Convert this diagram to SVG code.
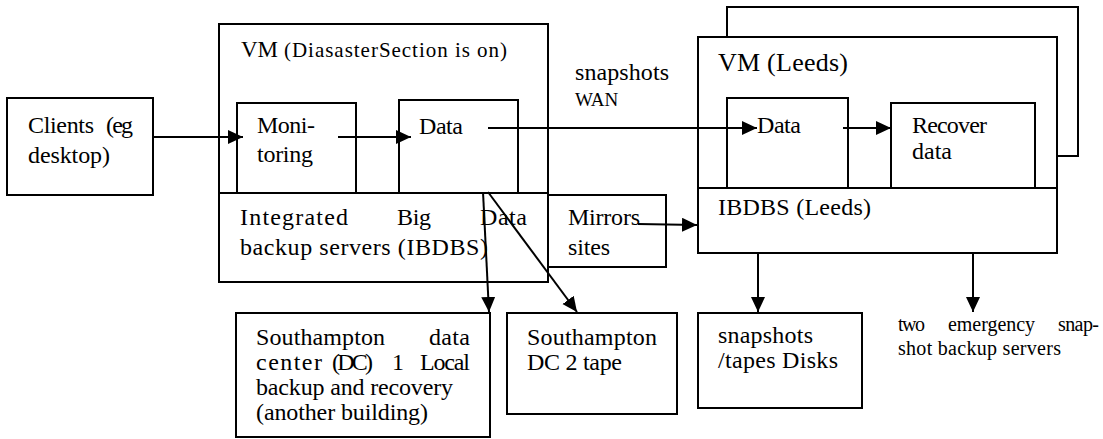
<svg xmlns="http://www.w3.org/2000/svg" width="1103" height="439" viewBox="0 0 1103 439">
<style>
.box{fill:#fff;stroke:#000;stroke-width:2}
.ln{fill:none;stroke:#000;stroke-width:2}
text{font-family:"Liberation Serif","Times New Roman",serif;font-size:24px;fill:#000}
.sm{font-size:20px}
</style>
<defs>
<marker id="ah" markerUnits="userSpaceOnUse" markerWidth="16" markerHeight="16" refX="15" refY="7" orient="auto">
<path d="M0,0 L15,7 L0,14 z" fill="#000"/>
</marker>
</defs>
<rect width="1103" height="439" fill="#fff"/>

<g id="clients">
<rect class="box" x="7" y="98" width="146" height="97"/>
<text x="28" y="133" textLength="66" lengthAdjust="spacing">Clients</text>
<text x="106" y="133" textLength="27" lengthAdjust="spacing">(eg</text>
<text x="28" y="163" textLength="82" lengthAdjust="spacing">desktop)</text>
</g>

<g id="vm-main">
<rect class="box" x="219" y="24" width="329" height="169"/>
<text x="241" y="57" style="font-size:23px" textLength="37" lengthAdjust="spacing">VM</text>
<text x="284" y="57" style="font-size:21px" textLength="223" lengthAdjust="spacing">(DiasasterSection is on)</text>
</g>

<g id="monitoring">
<rect class="box" x="237" y="103" width="119" height="90"/>
<text x="257" y="133" textLength="58" lengthAdjust="spacing">Moni-</text>
<text x="257" y="162" textLength="56" lengthAdjust="spacing">toring</text>
</g>

<g id="data-main">
<rect class="box" x="399" y="100" width="119" height="93"/>
<text x="419" y="134" textLength="44" lengthAdjust="spacing">Data</text>
</g>

<g id="ibdbs">
<rect class="box" x="219" y="193" width="329" height="89"/>
<text x="240" y="225" textLength="108" lengthAdjust="spacing">Integrated</text>
<text x="397" y="225" textLength="34" lengthAdjust="spacing">Big</text>
<text x="480" y="225" textLength="47" lengthAdjust="spacing">Data</text>
<text x="240" y="255" textLength="248" lengthAdjust="spacing">backup servers (IBDBS)</text>
</g>

<g id="mirrors">
<rect class="box" x="548" y="195" width="118" height="72"/>
<text x="568" y="225" textLength="72" lengthAdjust="spacing">Mirrors</text>
<text x="568" y="255" textLength="42" lengthAdjust="spacing">sites</text>
</g>

<g id="wan-label">
<text x="575" y="80" textLength="94" lengthAdjust="spacing">snapshots</text>
<text x="575" y="106" style="font-size:19px">WAN</text>
</g>

<g id="vm-leeds-back">
<rect class="box" x="727" y="7" width="351" height="149"/>
</g>

<g id="vm-leeds">
<rect class="box" x="698" y="37" width="359" height="151"/>
<text x="718" y="71" style="font-size:26px" textLength="130" lengthAdjust="spacing">VM (Leeds)</text>
</g>

<g id="data-leeds">
<rect class="box" x="727" y="98" width="121" height="90"/>
<text x="757" y="133" textLength="44" lengthAdjust="spacing">Data</text>
</g>

<g id="recover">
<rect class="box" x="891" y="103" width="144" height="85"/>
<text x="912" y="133" textLength="75" lengthAdjust="spacing">Recover</text>
<text x="912" y="159" textLength="40" lengthAdjust="spacing">data</text>
</g>

<g id="ibdbs-leeds">
<rect class="box" x="698" y="188" width="359" height="65"/>
<text x="718" y="215" textLength="153" lengthAdjust="spacing">IBDBS (Leeds)</text>
</g>

<g id="southampton-dc1">
<rect class="box" x="236" y="313" width="254" height="124"/>
<text x="256" y="345" textLength="129" lengthAdjust="spacing">Southampton</text>
<text x="429" y="345" textLength="41" lengthAdjust="spacing">data</text>
<text x="256" y="370" textLength="66" lengthAdjust="spacing">center</text>
<text x="332" y="370" textLength="41" lengthAdjust="spacing">(DC)</text>
<text x="392" y="370">1</text>
<text x="420" y="370" textLength="50" lengthAdjust="spacing">Local</text>
<text x="256" y="395" textLength="197" lengthAdjust="spacing">backup and recovery</text>
<text x="256" y="420" textLength="172" lengthAdjust="spacing">(another building)</text>
</g>

<g id="southampton-dc2">
<rect class="box" x="507" y="313" width="170" height="101"/>
<text x="527" y="345" textLength="130" lengthAdjust="spacing">Southampton</text>
<text x="527" y="370" textLength="95" lengthAdjust="spacing">DC 2 tape</text>
</g>

<g id="snapshots-disks">
<rect class="box" x="698" y="313" width="164" height="95"/>
<text x="718" y="343" textLength="95" lengthAdjust="spacing">snapshots</text>
<text x="718" y="368" textLength="120" lengthAdjust="spacing">/tapes Disks</text>
</g>

<g id="emergency-servers">
<text class="sm" x="898" y="331" textLength="27" lengthAdjust="spacing">two</text>
<text class="sm" x="948" y="331" textLength="87" lengthAdjust="spacing">emergency</text>
<text class="sm" x="1058" y="331" textLength="41" lengthAdjust="spacing">snap-</text>
<text class="sm" x="898" y="355" textLength="163" lengthAdjust="spacing">shot backup servers</text>
</g>

<g id="connectors">
<line class="ln" x1="153" y1="137" x2="243" y2="137" marker-end="url(#ah)"/>
<line class="ln" x1="338" y1="137" x2="411" y2="137" marker-end="url(#ah)"/>
<line class="ln" x1="488" y1="128" x2="757" y2="128" marker-end="url(#ah)"/>
<line class="ln" x1="843" y1="128" x2="891" y2="128" marker-end="url(#ah)"/>
<line class="ln" x1="483" y1="192" x2="489" y2="312" marker-end="url(#ah)"/>
<line class="ln" x1="488" y1="192" x2="577" y2="312" marker-end="url(#ah)"/>
<line class="ln" x1="638" y1="224" x2="697" y2="225" marker-end="url(#ah)"/>
<line class="ln" x1="758" y1="252" x2="758" y2="312" marker-end="url(#ah)"/>
<line class="ln" x1="973" y1="252" x2="973" y2="312" marker-end="url(#ah)"/>
</g>
</svg>
